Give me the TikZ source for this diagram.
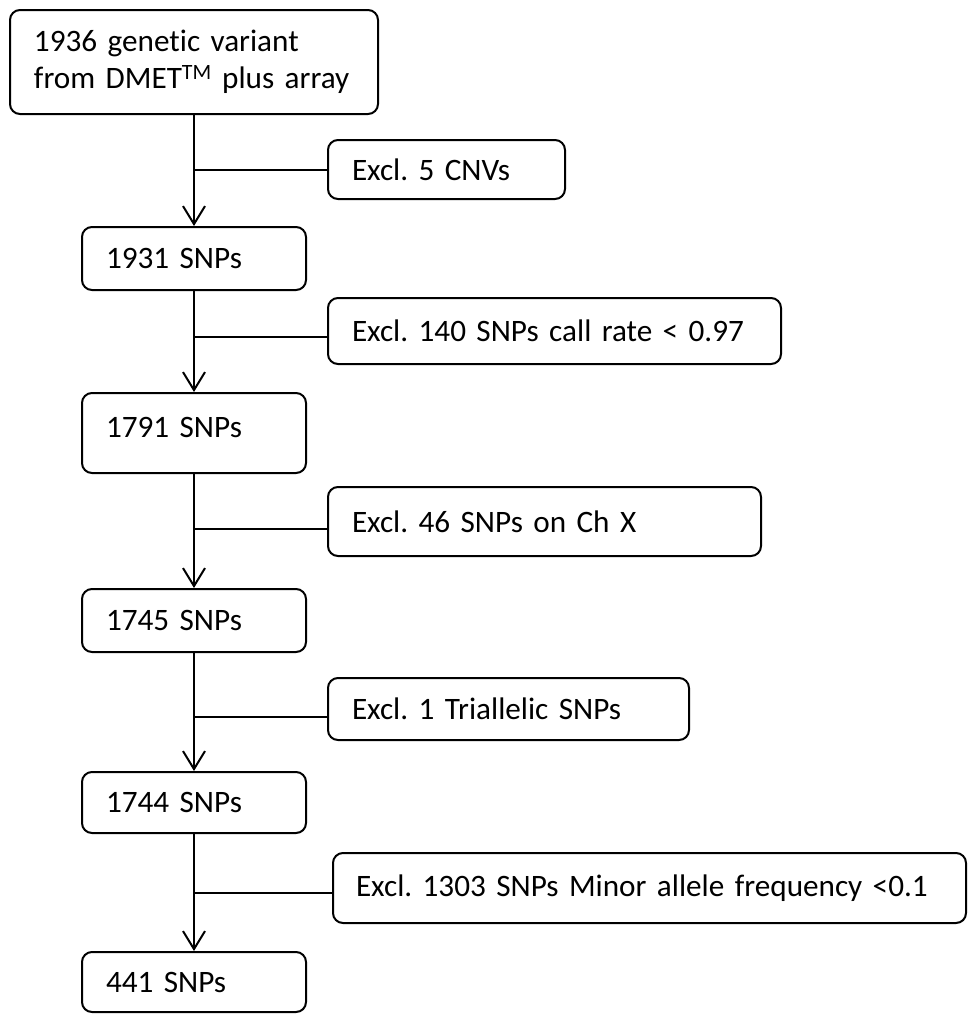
\documentclass[tikz,border=0pt]{standalone}
\usepackage{fontspec}
\setmainfont{Carlito}[Ligatures=NoCommon]
\usepackage{tikz}
\usetikzlibrary{arrows.meta}

\tikzset{
  >={Straight Barb[length=18pt,width=22pt]},
  stage/.style={draw, line width=2pt, rounded corners=10pt, align=left,
    inner xsep=24pt, inner ysep=0pt, text width=176pt,
    font=\fontsize{31.2}{37}\selectfont\frenchspacing},
  excl/.style={stage},
}

\begin{document}
\begin{tikzpicture}[x=1pt, y=-1pt, line width=2pt]
  \useasboundingbox (0,0) rectangle (968,1015);
  % main stages
  \node[stage, text width=320pt, minimum height=104pt] (top) at (194,62)
    {1936 genetic variant\\from DMET\textsuperscript{TM} plus array};
  \node[stage, minimum height=63pt] (n1931) at (194,258.5) {1931 SNPs};
  \node[stage, minimum height=80pt] (n1791) at (194,433) {\raisebox{12pt}{1791 SNPs}};
  \node[stage, minimum height=63pt] (n1745) at (194,620.5) {1745 SNPs};
  \node[stage, minimum height=61pt] (n1744) at (194,802.5) {1744 SNPs};
  \node[stage, minimum height=60pt] (n441) at (194,982) {441 SNPs};
  % exclusions
  \node[excl, text width=189pt, minimum height=59pt] (ex1) at (446.5,169.5) {Excl. 5 CNVs};
  \node[excl, text width=405pt, minimum height=66pt] (ex2) at (554.5,331) {Excl. 140 SNPs call rate < 0.97};
  \node[excl, text width=385pt, minimum height=69pt] (ex3) at (544.5,521.5) {Excl. 46 SNPs on Ch X};
  \node[excl, text width=313pt, minimum height=62pt] (ex4) at (508.5,709) {Excl. 1 Triallelic SNPs};
  \node[excl, inner xsep=23pt, text width=587pt, minimum height=70pt] (ex5) at (649.5,888) {Excl. 1303 SNPs Minor allele frequency <0.1};
  % arrows
  \draw[->] (top) -- (n1931);
  \draw[->] (n1931) -- (n1791);
  \draw[->] (n1791) -- (n1745);
  \draw[->] (n1745) -- (n1744);
  \draw[->] (n1744) -- (n441);
  % side branches
  \draw (ex1.west) -- (ex1.west -| top.south);
  \draw ([yshift=-6pt]ex2.west) -- ([yshift=-6pt]ex2.west -| top.south);
  \draw ([yshift=-7pt]ex3.west) -- ([yshift=-7pt]ex3.west -| top.south);
  \draw ([yshift=-8pt]ex4.west) -- ([yshift=-8pt]ex4.west -| top.south);
  \draw ([yshift=-5pt]ex5.west) -- ([yshift=-5pt]ex5.west -| top.south);
\end{tikzpicture}
\end{document}
